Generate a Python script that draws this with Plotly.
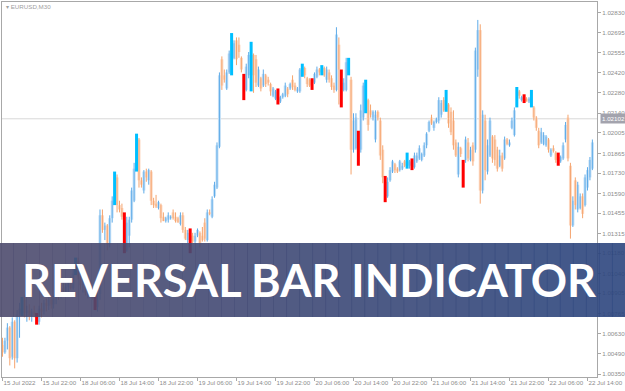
import plotly.graph_objects as go

# ---------------- data (EURUSD, M30) ----------------
opens = [
    1.0055, 1.0050, 1.0058, 1.0067, 1.0047, 1.0071, 1.0046, 1.0076, 1.0078, 1.0086,
    1.0077, 1.0079, 1.0075, 1.0078, 1.0076, 1.0071, 1.0080, 1.0078, 1.0084, 1.0082,
    1.0086, 1.0083, 1.0087, 1.0090, 1.0088, 1.0094, 1.0091, 1.0095, 1.0098, 1.0094,
    1.0104, 1.0113, 1.0102, 1.0096, 1.0100, 1.0091, 1.0095, 1.0093, 1.0092, 1.0081,
    1.0090, 1.0144, 1.0134, 1.0137, 1.0124, 1.0142, 1.0153, 1.0170, 1.0151, 1.0149,
    1.0144, 1.0120, 1.0130, 1.0141, 1.0154, 1.0175, 1.0196, 1.0168, 1.0161, 1.0174,
    1.0168, 1.0174, 1.0154, 1.0152, 1.0149, 1.0151, 1.0143, 1.0140, 1.0141, 1.0142,
    1.0146, 1.0143, 1.0142, 1.0138, 1.0144, 1.0134, 1.0127, 1.0134, 1.0130, 1.0126,
    1.0130, 1.0132, 1.0130, 1.0139, 1.0127, 1.0146, 1.0143, 1.0157, 1.0163, 1.0191,
    1.0251, 1.0240, 1.0231, 1.0242, 1.0242, 1.0252, 1.0264, 1.0261, 1.0252, 1.0240,
    1.0230, 1.0240, 1.0230, 1.0254, 1.0251, 1.0233, 1.0238, 1.0233, 1.0240, 1.0237,
    1.0234, 1.0226, 1.0224, 1.0230, 1.0222, 1.0225, 1.0226, 1.0231, 1.0231, 1.0237,
    1.0233, 1.0229, 1.0229, 1.0240, 1.0245, 1.0238, 1.0237, 1.0237, 1.0235, 1.0239,
    1.0244, 1.0241, 1.0245, 1.0237, 1.0242, 1.0238, 1.0233, 1.0230, 1.0261, 1.0242,
    1.0230, 1.0230, 1.0242, 1.0237, 1.0189, 1.0190, 1.0201, 1.0189, 1.0211, 1.0216,
    1.0223, 1.0216, 1.0211, 1.0196, 1.0215, 1.0209, 1.0189, 1.0170, 1.0157, 1.0168,
    1.0174, 1.0179, 1.0176, 1.0175, 1.0176, 1.0181, 1.0177, 1.0178, 1.0182, 1.0177,
    1.0181, 1.0183, 1.0182, 1.0185, 1.0192, 1.0202, 1.0211, 1.0204, 1.0208, 1.0209,
    1.0213, 1.0223, 1.0216, 1.0220, 1.0215, 1.0209, 1.0194, 1.0172, 1.0190, 1.0181,
    1.0182, 1.0194, 1.0182, 1.0192, 1.0189, 1.0244, 1.0271, 1.0161, 1.0209, 1.0174,
    1.0185, 1.0198, 1.0196, 1.0189, 1.0178, 1.0185, 1.0183, 1.0196, 1.0192, 1.0204,
    1.0199, 1.0220, 1.0229, 1.0223, 1.0226, 1.0224, 1.0222, 1.0220, 1.0218, 1.0211,
    1.0202, 1.0194, 1.0193, 1.0192, 1.0196, 1.0185, 1.0190, 1.0187, 1.0186, 1.0181,
    1.0183, 1.0196, 1.0211, 1.0178, 1.0137, 1.0168, 1.0148, 1.0149, 1.0157, 1.0151,
    1.0163, 1.0170, 1.0176,
]
highs = [
    1.0060, 1.0060, 1.0070, 1.0068, 1.0074, 1.0072, 1.0079, 1.0084, 1.0088, 1.0089,
    1.0082, 1.0083, 1.0080, 1.0082, 1.0077, 1.0082, 1.0084, 1.0086, 1.0087, 1.0088,
    1.0089, 1.0089, 1.0093, 1.0093, 1.0096, 1.0098, 1.0097, 1.0100, 1.0102, 1.0107,
    1.0115, 1.0115, 1.0107, 1.0103, 1.0102, 1.0098, 1.0100, 1.0096, 1.0093, 1.0093,
    1.0148, 1.0148, 1.0139, 1.0138, 1.0144, 1.0157, 1.0174, 1.0172, 1.0154, 1.0152,
    1.0146, 1.0143, 1.0143, 1.0163, 1.0180, 1.0200, 1.0197, 1.0170, 1.0175, 1.0176,
    1.0176, 1.0175, 1.0156, 1.0158, 1.0154, 1.0152, 1.0146, 1.0143, 1.0146, 1.0144,
    1.0148, 1.0146, 1.0143, 1.0146, 1.0146, 1.0136, 1.0134, 1.0135, 1.0132, 1.0132,
    1.0135, 1.0133, 1.0136, 1.0142, 1.0148, 1.0148, 1.0157, 1.0167, 1.0194, 1.0242,
    1.0253, 1.0244, 1.0244, 1.0257, 1.0269, 1.0264, 1.0266, 1.0266, 1.0253, 1.0241,
    1.0248, 1.0256, 1.0263, 1.0255, 1.0254, 1.0246, 1.0239, 1.0244, 1.0241, 1.0239,
    1.0235, 1.0232, 1.0230, 1.0231, 1.0226, 1.0228, 1.0235, 1.0232, 1.0235, 1.0240,
    1.0235, 1.0232, 1.0245, 1.0248, 1.0246, 1.0239, 1.0238, 1.0238, 1.0242, 1.0246,
    1.0245, 1.0247, 1.0246, 1.0246, 1.0244, 1.0240, 1.0235, 1.0273, 1.0266, 1.0244,
    1.0238, 1.0252, 1.0252, 1.0239, 1.0214, 1.0214, 1.0202, 1.0220, 1.0235, 1.0237,
    1.0224, 1.0220, 1.0216, 1.0216, 1.0216, 1.0211, 1.0192, 1.0171, 1.0170, 1.0177,
    1.0182, 1.0180, 1.0177, 1.0182, 1.0180, 1.0182, 1.0187, 1.0182, 1.0183, 1.0187,
    1.0187, 1.0192, 1.0187, 1.0194, 1.0201, 1.0209, 1.0213, 1.0209, 1.0211, 1.0225,
    1.0223, 1.0225, 1.0230, 1.0221, 1.0218, 1.0216, 1.0196, 1.0194, 1.0191, 1.0182,
    1.0198, 1.0197, 1.0191, 1.0194, 1.0259, 1.0278, 1.0275, 1.0216, 1.0213, 1.0196,
    1.0211, 1.0199, 1.0199, 1.0191, 1.0189, 1.0187, 1.0198, 1.0197, 1.0196, 1.0211,
    1.0218, 1.0232, 1.0230, 1.0226, 1.0227, 1.0225, 1.0225, 1.0230, 1.0219, 1.0212,
    1.0204, 1.0204, 1.0201, 1.0199, 1.0197, 1.0190, 1.0192, 1.0188, 1.0187, 1.0185,
    1.0194, 1.0208, 1.0213, 1.0180, 1.0157, 1.0170, 1.0167, 1.0159, 1.0159, 1.0172,
    1.0177, 1.0184, 1.0196,
]
lows = [
    1.0047, 1.0049, 1.0052, 1.0041, 1.0045, 1.0039, 1.0043, 1.0060, 1.0075, 1.0074,
    1.0071, 1.0072, 1.0071, 1.0074, 1.0069, 1.0069, 1.0074, 1.0076, 1.0078, 1.0079,
    1.0080, 1.0080, 1.0083, 1.0086, 1.0087, 1.0089, 1.0089, 1.0091, 1.0093, 1.0093,
    1.0103, 1.0100, 1.0093, 1.0091, 1.0089, 1.0087, 1.0090, 1.0086, 1.0079, 1.0078,
    1.0086, 1.0132, 1.0127, 1.0120, 1.0122, 1.0139, 1.0151, 1.0146, 1.0146, 1.0141,
    1.0118, 1.0119, 1.0122, 1.0139, 1.0153, 1.0174, 1.0163, 1.0163, 1.0159, 1.0167,
    1.0165, 1.0151, 1.0149, 1.0149, 1.0148, 1.0139, 1.0140, 1.0139, 1.0139, 1.0141,
    1.0141, 1.0139, 1.0139, 1.0137, 1.0132, 1.0127, 1.0125, 1.0118, 1.0125, 1.0125,
    1.0129, 1.0122, 1.0126, 1.0126, 1.0126, 1.0144, 1.0142, 1.0156, 1.0162, 1.0190,
    1.0230, 1.0235, 1.0230, 1.0241, 1.0240, 1.0251, 1.0247, 1.0252, 1.0242, 1.0223,
    1.0229, 1.0238, 1.0229, 1.0228, 1.0232, 1.0232, 1.0229, 1.0232, 1.0232, 1.0233,
    1.0226, 1.0225, 1.0223, 1.0220, 1.0221, 1.0224, 1.0225, 1.0225, 1.0230, 1.0230,
    1.0229, 1.0228, 1.0228, 1.0239, 1.0238, 1.0232, 1.0232, 1.0230, 1.0234, 1.0238,
    1.0240, 1.0240, 1.0239, 1.0235, 1.0235, 1.0230, 1.0228, 1.0229, 1.0220, 1.0218,
    1.0229, 1.0229, 1.0240, 1.0172, 1.0187, 1.0189, 1.0178, 1.0187, 1.0209, 1.0214,
    1.0202, 1.0211, 1.0209, 1.0194, 1.0209, 1.0182, 1.0166, 1.0153, 1.0156, 1.0167,
    1.0173, 1.0173, 1.0173, 1.0174, 1.0175, 1.0177, 1.0176, 1.0176, 1.0175, 1.0176,
    1.0180, 1.0182, 1.0181, 1.0184, 1.0190, 1.0201, 1.0206, 1.0202, 1.0207, 1.0207,
    1.0211, 1.0215, 1.0215, 1.0204, 1.0199, 1.0189, 1.0184, 1.0170, 1.0184, 1.0163,
    1.0180, 1.0181, 1.0181, 1.0178, 1.0187, 1.0239, 1.0152, 1.0159, 1.0168, 1.0172,
    1.0184, 1.0180, 1.0178, 1.0174, 1.0177, 1.0174, 1.0182, 1.0192, 1.0191, 1.0203,
    1.0198, 1.0218, 1.0224, 1.0222, 1.0221, 1.0222, 1.0221, 1.0218, 1.0209, 1.0202,
    1.0190, 1.0193, 1.0192, 1.0191, 1.0187, 1.0184, 1.0187, 1.0180, 1.0178, 1.0180,
    1.0182, 1.0194, 1.0181, 1.0128, 1.0136, 1.0148, 1.0146, 1.0148, 1.0142, 1.0150,
    1.0161, 1.0168, 1.0175,
]
closes = [
    1.0050, 1.0058, 1.0067, 1.0046, 1.0071, 1.0046, 1.0076, 1.0080, 1.0087, 1.0077,
    1.0079, 1.0075, 1.0078, 1.0076, 1.0071, 1.0080, 1.0078, 1.0084, 1.0082, 1.0086,
    1.0083, 1.0087, 1.0090, 1.0088, 1.0094, 1.0091, 1.0095, 1.0098, 1.0094, 1.0104,
    1.0113, 1.0102, 1.0096, 1.0100, 1.0091, 1.0095, 1.0093, 1.0089, 1.0081, 1.0090,
    1.0144, 1.0134, 1.0137, 1.0124, 1.0142, 1.0154, 1.0172, 1.0151, 1.0148, 1.0143,
    1.0120, 1.0139, 1.0141, 1.0161, 1.0176, 1.0198, 1.0168, 1.0165, 1.0174, 1.0170,
    1.0175, 1.0154, 1.0151, 1.0150, 1.0153, 1.0142, 1.0140, 1.0142, 1.0144, 1.0143,
    1.0142, 1.0140, 1.0139, 1.0144, 1.0134, 1.0128, 1.0132, 1.0120, 1.0126, 1.0130,
    1.0134, 1.0125, 1.0127, 1.0128, 1.0146, 1.0145, 1.0155, 1.0165, 1.0192, 1.0240,
    1.0233, 1.0237, 1.0242, 1.0255, 1.0267, 1.0262, 1.0251, 1.0256, 1.0244, 1.0225,
    1.0246, 1.0254, 1.0261, 1.0240, 1.0235, 1.0244, 1.0231, 1.0241, 1.0234, 1.0235,
    1.0229, 1.0231, 1.0229, 1.0221, 1.0225, 1.0227, 1.0233, 1.0227, 1.0234, 1.0232,
    1.0230, 1.0231, 1.0244, 1.0247, 1.0240, 1.0234, 1.0233, 1.0231, 1.0241, 1.0244,
    1.0242, 1.0246, 1.0240, 1.0244, 1.0237, 1.0232, 1.0230, 1.0268, 1.0244, 1.0220,
    1.0235, 1.0249, 1.0251, 1.0189, 1.0209, 1.0211, 1.0182, 1.0216, 1.0233, 1.0235,
    1.0206, 1.0213, 1.0215, 1.0213, 1.0211, 1.0185, 1.0170, 1.0156, 1.0167, 1.0175,
    1.0181, 1.0175, 1.0174, 1.0181, 1.0178, 1.0178, 1.0185, 1.0181, 1.0176, 1.0185,
    1.0185, 1.0190, 1.0186, 1.0192, 1.0200, 1.0208, 1.0207, 1.0208, 1.0210, 1.0223,
    1.0221, 1.0216, 1.0229, 1.0207, 1.0201, 1.0192, 1.0185, 1.0191, 1.0186, 1.0166,
    1.0196, 1.0183, 1.0189, 1.0181, 1.0257, 1.0271, 1.0161, 1.0213, 1.0175, 1.0192,
    1.0209, 1.0183, 1.0182, 1.0176, 1.0185, 1.0176, 1.0196, 1.0193, 1.0194, 1.0209,
    1.0216, 1.0231, 1.0226, 1.0225, 1.0222, 1.0222, 1.0224, 1.0229, 1.0211, 1.0204,
    1.0192, 1.0201, 1.0199, 1.0198, 1.0189, 1.0189, 1.0188, 1.0182, 1.0180, 1.0184,
    1.0192, 1.0206, 1.0183, 1.0137, 1.0154, 1.0151, 1.0165, 1.0157, 1.0145, 1.0170,
    1.0175, 1.0182, 1.0194,
]
# bars flagged by the Reversal Bar indicator
signal_up = [8, 30, 46, 55, 94, 102, 123, 131, 142, 149, 166, 182, 211, 217]
signal_down = [14, 38, 50, 77, 99, 113, 127, 139, 146, 157, 168, 189, 214, 228]

price_ticks = [1.02830, 1.02695, 1.02555, 1.02420, 1.02280, 1.02140, 1.02005,
               1.01865, 1.01730, 1.01590, 1.01455, 1.01315, 1.01180, 1.01040,
               1.00905, 1.00765, 1.00630, 1.00490, 1.00350]
time_labels = ["15 Jul 2022", "15 Jul 22:00", "18 Jul 06:00", "18 Jul 14:00",
               "18 Jul 22:00", "19 Jul 06:00", "19 Jul 14:00", "19 Jul 22:00",
               "20 Jul 06:00", "20 Jul 14:00", "20 Jul 22:00", "21 Jul 06:00",
               "21 Jul 14:00", "21 Jul 22:00", "22 Jul 06:00", "22 Jul 14:00"]
bars_per_label = 16
current_price = 1.02102
symbol_label = "EURUSD,M30"
banner_text = "REVERSAL BAR INDICATOR"

# ---------------- figure ----------------
n = len(opens)
idx = list(range(n))
sig_set = set(signal_up) | set(signal_down)
up_ids = [i for i in idx if closes[i] >= opens[i] and i not in sig_set]
dn_ids = [i for i in idx if closes[i] < opens[i] and i not in sig_set]


def segments(ids, a, b):
    xs, ys = [], []
    for i in ids:
        xs += [i, i, None]
        ys += [a[i], b[i], None]
    return xs, ys


fig = go.Figure()
for ids, col in ((up_ids, "#c4e0f7"), (dn_ids, "#fdd9c2")):
    xs, ys = segments(ids, opens, closes)
    fig.add_trace(go.Scatter(x=xs, y=ys, mode="lines",
                             line=dict(color=col, width=3), hoverinfo="skip"))
for ids, col in ((up_ids, "#5eabe8"), (dn_ids, "#f5a46e")):
    xs, ys = segments(ids, highs, lows)
    fig.add_trace(go.Scatter(x=xs, y=ys, mode="lines",
                             line=dict(color=col, width=1), hoverinfo="skip"))
for ids, col in ((signal_up, "#00bfff"), (signal_down, "#ff0000")):
    xs, ys = segments(ids, highs, lows)
    fig.add_trace(go.Scatter(x=xs, y=ys, mode="lines",
                             line=dict(color=col, width=3), hoverinfo="skip"))

axis_col = "#a8a8a8"
lab_font = dict(family="Liberation Sans", size=6.2, color="#8c8c8c")

fig.update_layout(
    width=625, height=391,
    margin=dict(l=2, r=28, t=2, b=14, autoexpand=False),
    paper_bgcolor="white", plot_bgcolor="white",
    showlegend=False,
    xaxis=dict(
        range=[-0.2, 243.9],
        tickvals=[k * bars_per_label for k in range(len(time_labels))],
        ticktext=time_labels,
        tickangle=0, automargin=False,
        ticks="outside", ticklen=3, tickcolor=axis_col,
        showline=True, linecolor=axis_col, linewidth=1, mirror=True,
        showgrid=False, zeroline=False,
        tickfont=lab_font,
        ticklabelposition="outside right",
        ticklabeloverflow="allow",
    ),
    yaxis=dict(
        side="right",
        range=[1.00331, 1.02903],
        tickvals=price_ticks,
        ticktext=["%.5f" % v for v in price_ticks],
        automargin=False,
        ticks="outside", ticklen=3, tickcolor=axis_col,
        showline=True, linecolor=axis_col, linewidth=1, mirror=True,
        showgrid=False, zeroline=False,
        tickfont=lab_font,
        ticklabeloverflow="allow",
    ),
)

shapes = [dict(type="line", xref="paper", x0=0, x1=1, yref="y",
               y0=current_price, y1=current_price,
               line=dict(color="#d9d9d9", width=1), layer="below")]

# banner with horizontal gradient
bx0, bx1 = -2 / 595, 623 / 595
by0, by1 = 60 / 375, 134 / 375
left_rgb = (78, 75, 110)
right_rgb = (44, 70, 126)
N = 48
for k in range(N):
    t = k / (N - 1)
    c = tuple(round(left_rgb[j] + (right_rgb[j] - left_rgb[j]) * t) for j in range(3))
    shapes.append(dict(type="rect", xref="paper", yref="paper",
                       x0=bx0 + (bx1 - bx0) * k / N,
                       x1=bx0 + (bx1 - bx0) * (k + 1) / N + 0.001,
                       y0=by0, y1=by1, line=dict(width=0),
                       fillcolor="rgb(%d,%d,%d)" % c, opacity=0.9, layer="above"))
fig.update_layout(shapes=shapes)

fig.add_annotation(xref="paper", yref="y", x=1.0, y=current_price,
                   xanchor="left", yanchor="middle", showarrow=False,
                   text="%.5f" % current_price, bgcolor="#a3a3ad",
                   font=dict(family="Liberation Sans", size=6.2, color="white"),
                   borderpad=1, xshift=3)
fig.add_annotation(xref="paper", yref="paper", x=0.004, y=0.988,
                   xanchor="left", yanchor="middle", showarrow=False,
                   text="\u25be " + symbol_label,
                   font=dict(family="Liberation Sans", size=6.2, color="#a0a0a0"))
fig.add_annotation(xref="paper", yref="paper", x=0.516, y=0.258,
                   xanchor="center", yanchor="middle", showarrow=False,
                   text=banner_text,
                   font=dict(family="Lato", size=45, color="white", weight=700))

fig.write_html("out.html")
